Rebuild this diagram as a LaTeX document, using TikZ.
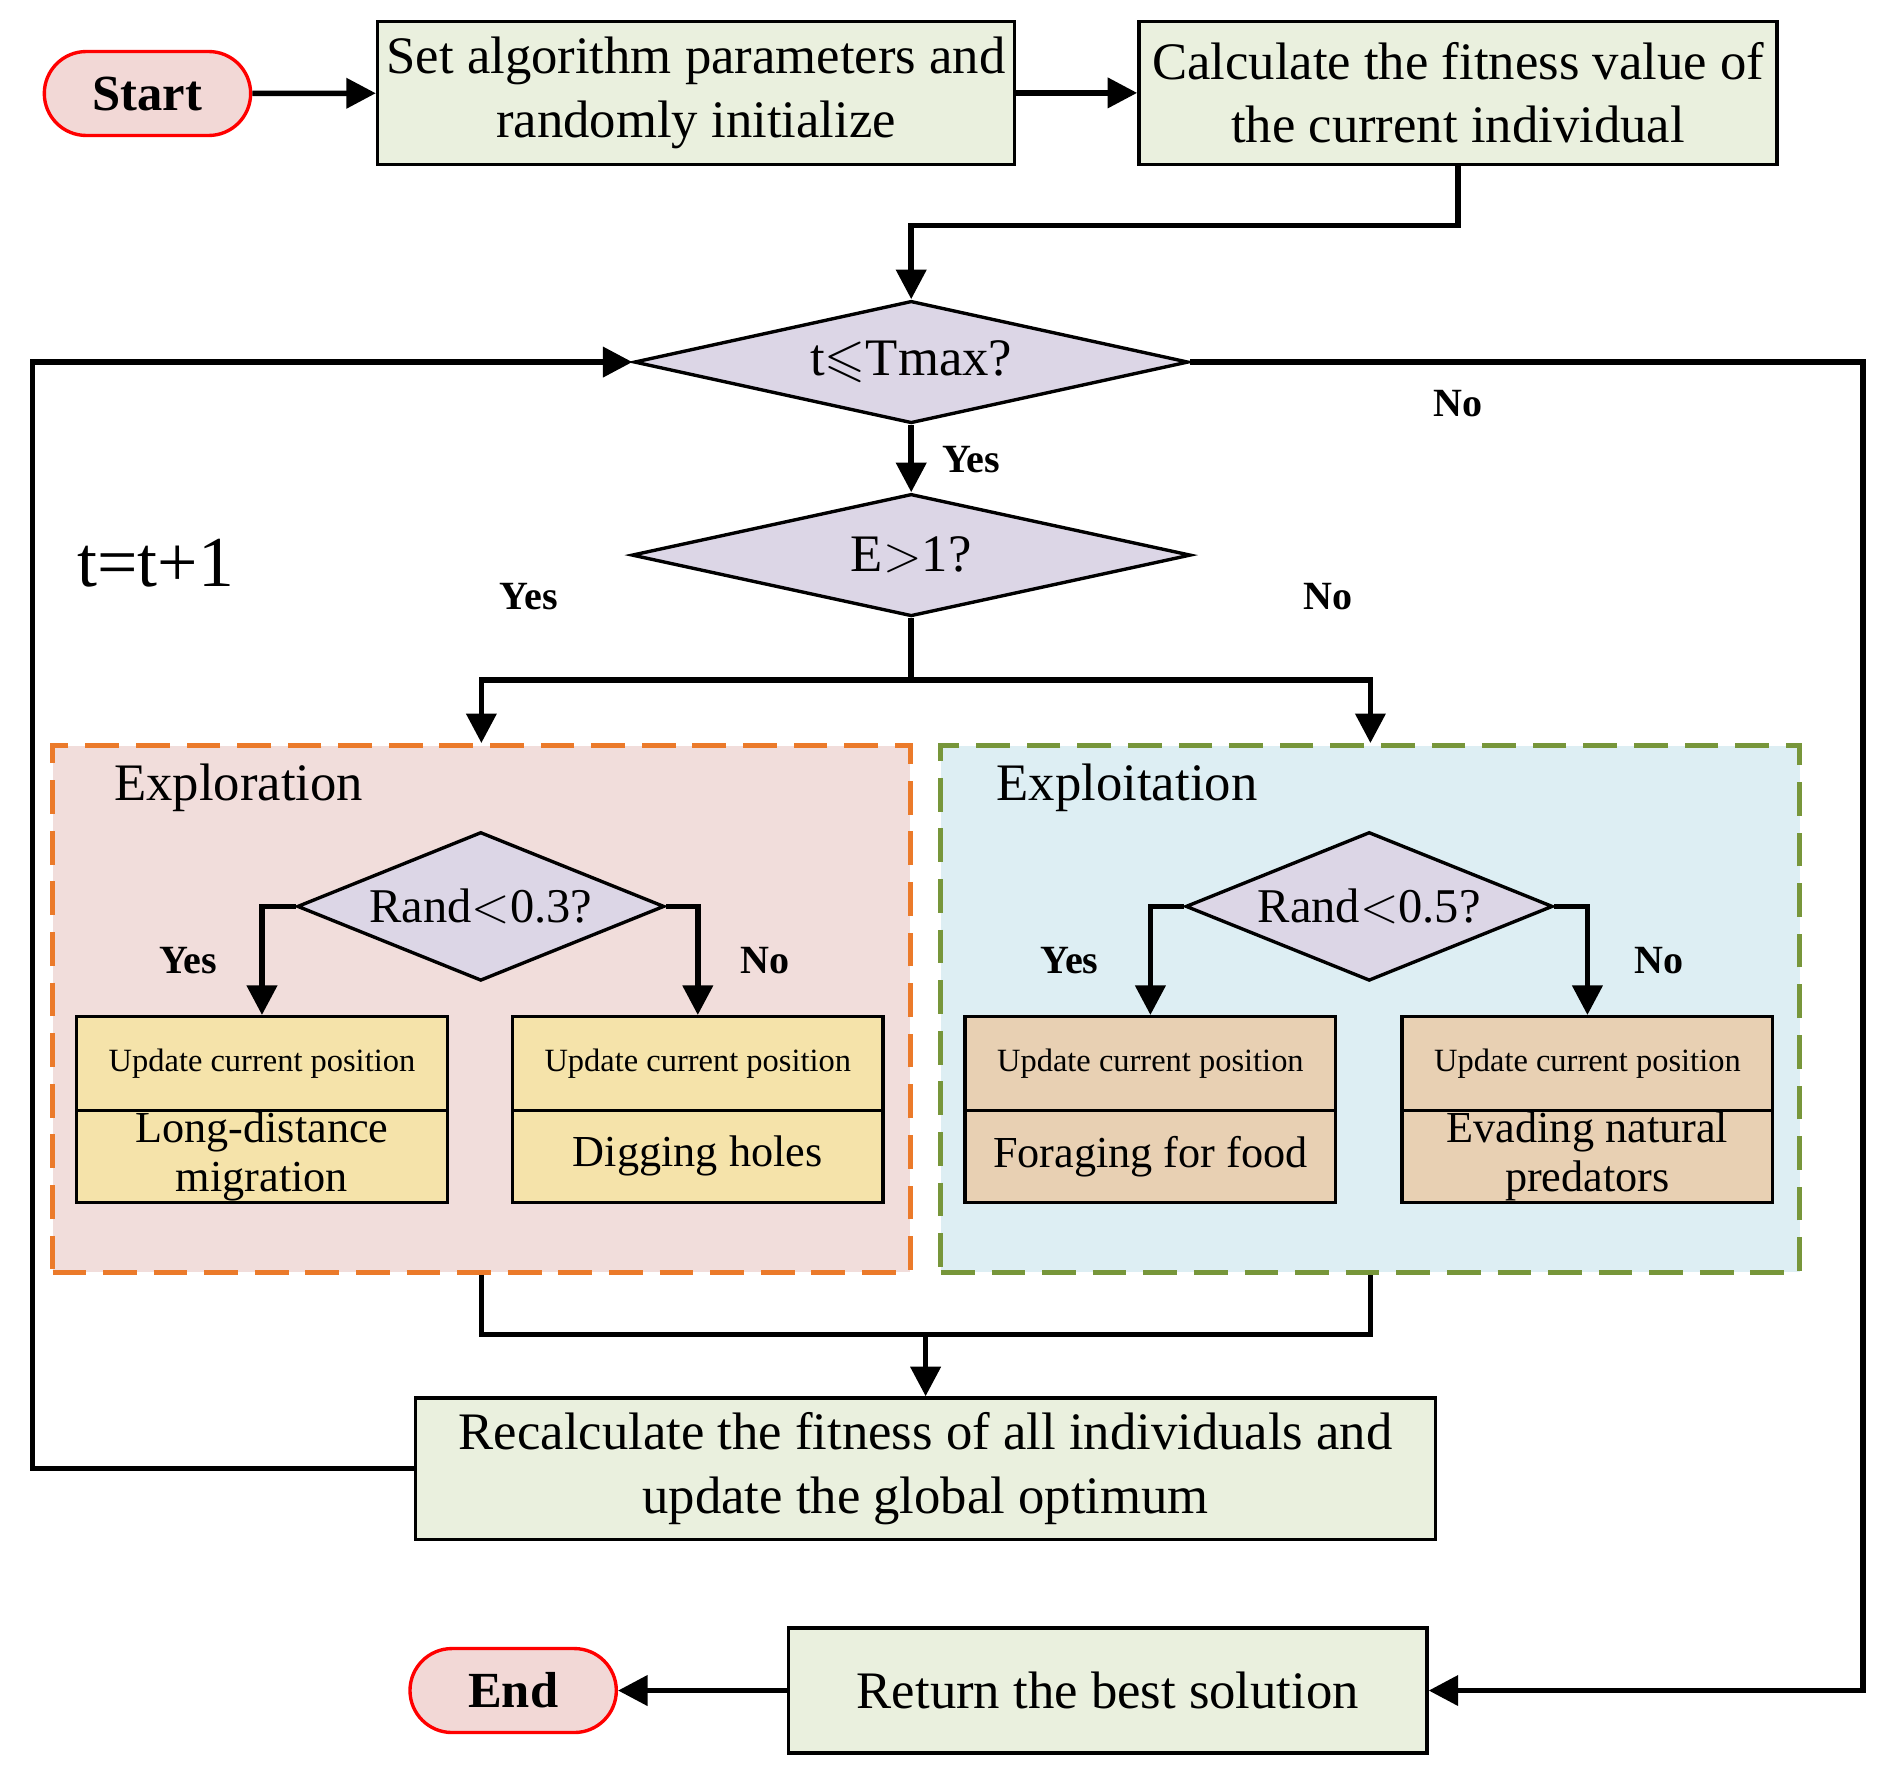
\documentclass[tikz,border=0pt]{standalone}
\usepackage{amssymb}
\usepackage{fontspec}
\setmainfont{Liberation Serif}
\usetikzlibrary{shapes,arrows,arrows.meta,positioning,fit,backgrounds}
\definecolor{boxgreen}{HTML}{EAF0DE}
\definecolor{termpink}{HTML}{F2D8D6}
\definecolor{decpurple}{HTML}{DCD6E6}
\definecolor{explpink}{HTML}{F1DDDB}
\definecolor{explblue}{HTML}{DDEEF3}
\definecolor{updyellow}{HTML}{F5E3AA}
\definecolor{updtan}{HTML}{E8D0B3}
\definecolor{dashorange}{HTML}{EB7A2A}
\definecolor{dashgreen}{HTML}{77963A}
\begin{document}
\begin{tikzpicture}[x=0.01cm,y=-0.01cm]
		\tikzstyle{Step}	= [rectangle, draw, fill=boxgreen, line width=0.8pt, inner sep=0pt, align=center, font=\fontsize{12.5}{15}\selectfont]
		\tikzstyle{Term}	= [rounded corners=0.35cm, draw=red, fill=termpink, line width=0.8pt, minimum width=1.72cm, minimum height=0.7cm, font=\fontsize{12}{14}\selectfont\bfseries]
		\tikzstyle{Test}	= [diamond, aspect=4, draw, fill=decpurple, line width=0.8pt, inner sep=0pt, font=\fontsize{12.5}{15}\selectfont]
		\tikzstyle{Upd}		= [rectangle, draw, line width=0.8pt, inner sep=0pt, minimum width=3.09cm, align=center]
		\tikzstyle{Area}	= [rectangle, dashed, dash pattern=on 8pt off 4pt, line width=1.2pt]
		\tikzstyle{Lbl}		= [font=\fontsize{9.5}{11}\selectfont\bfseries]
		\tikzstyle{Flow}	= [line width=1.3pt, -{Triangle[length=7pt,width=7pt]}]
		\tikzstyle{Line}	= [line width=1.3pt]
		
		\useasboundingbox (0,0) rectangle (1568,1477);
		
		% top row
		\node (start) at (123,78) [Term] {Start};
		\node (init) at (580.5,77.5) [Step, minimum width=5.31cm, minimum height=1.19cm] {Set algorithm parameters and\\randomly initialize};
		\node (fit) at (1216,77.5) [Step, minimum width=5.32cm, minimum height=1.19cm] {Calculate the fitness value of\\the current individual};
		
		% tests
		\node (tmax) at (760,302) [Test, minimum width=4.62cm, minimum height=1.02cm] {t$\leqslant$Tmax?};
		\node (ecmp) at (760,463) [Test, minimum width=4.66cm, minimum height=1.02cm] {E$>$1?};
		
		% exploration / exploitation areas
		\node (explore) at (401.5,841.5) [Area, draw=dashorange, fill=explpink, minimum width=7.15cm, minimum height=4.39cm] {};
		\node (exploit) at (1143,841.5) [Area, draw=dashgreen, fill=explblue, minimum width=7.16cm, minimum height=4.39cm] {};
		\node at (199,657) [font=\fontsize{12.5}{15}\selectfont] {Exploration};
		\node at (940,657) [font=\fontsize{12.5}{15}\selectfont] {Exploitation};
		
		\node (rand3) at (401,756) [Test, aspect=2.5, minimum width=3.06cm, minimum height=1.24cm, font=\fontsize{11.5}{13}\selectfont] {Rand$<$0.3?};
		\node (rand5) at (1142,756) [Test, aspect=2.5, minimum width=3.06cm, minimum height=1.24cm, font=\fontsize{11.5}{13}\selectfont] {Rand$<$0.5?};
		
		\node (u1) at (218.5,887) [Upd, fill=updyellow, minimum height=0.78cm, font=\fontsize{7.7}{9}\selectfont] {Update current position};
		\node (m1) at (218.5,964.5) [Upd, fill=updyellow, minimum height=0.77cm, font=\fontsize{10.5}{11.5}\selectfont] {Long-distance\\migration};
		\node (u2) at (582,887) [Upd, fill=updyellow, minimum height=0.78cm, font=\fontsize{7.7}{9}\selectfont] {Update current position};
		\node (m2) at (582,964.5) [Upd, fill=updyellow, minimum height=0.77cm, font=\fontsize{10.5}{11.5}\selectfont] {Digging holes};
		\node (u3) at (959.5,887) [Upd, fill=updtan, minimum height=0.78cm, font=\fontsize{7.7}{9}\selectfont] {Update current position};
		\node (m3) at (959.5,964.5) [Upd, fill=updtan, minimum height=0.77cm, font=\fontsize{10.5}{11.5}\selectfont] {Foraging for food};
		\node (u4) at (1324,887) [Upd, fill=updtan, minimum height=0.78cm, font=\fontsize{7.7}{9}\selectfont] {Update current position};
		\node (m4) at (1324,964.5) [Upd, fill=updtan, minimum height=0.77cm, font=\fontsize{10.5}{11.5}\selectfont] {Evading natural\\predators};
		
		% bottom part
		\node (recalc) at (772,1225) [Step, minimum width=8.5cm, minimum height=1.18cm] {Recalculate the fitness of all individuals and\\update the global optimum};
		\node (best) at (924,1410) [Step, minimum width=5.32cm, minimum height=1.04cm] {Return the best solution};
		\node (stop) at (428,1410) [Term] {End};
		\node (inc) at (130,470) [font=\fontsize{17}{20}\selectfont] {t=t+1};
		
		% labels
		\node at (810,383) [Lbl] {Yes};
		\node at (1216,337) [Lbl] {No};
		\node at (441,498) [Lbl] {Yes};
		\node at (1108,498) [Lbl] {No};
		\node at (157,801) [Lbl] {Yes};
		\node at (638,801) [Lbl] {No};
		\node at (892,801) [Lbl] {Yes};
		\node at (1384,801) [Lbl] {No};
		
		% connectors
		\draw [Flow] (start) -- (init);
		\draw [Flow] (init) -- (fit);
		\draw [Flow] (fit.south) |- (760,188) -- (tmax.north);
		\draw [Flow] (tmax) -- (ecmp);
		\draw [Line] (ecmp.south) -- (760,567);
		\draw [Flow] (760,567) -| (explore.north);
		\draw [Flow] (760,567) -| (exploit.north);
		\draw [Flow] (rand3.west) -| (u1.north);
		\draw [Flow] (rand3.east) -| (u2.north);
		\draw [Flow] (rand5.west) -| (u3.north);
		\draw [Flow] (rand5.east) -| (u4.north);
		\draw [Line] (explore.south) |- (1143,1113) -- (exploit.south);
		\draw [Flow] (772,1113) -- (recalc.north);
		\draw [Flow] (recalc.west) -| (27,302) -- (tmax.west);
		\draw [Flow] (tmax.east) -| (1554,1410) -- (best.east);
		\draw [Flow] (best) -- (stop);
	\end{tikzpicture}
\end{document}
